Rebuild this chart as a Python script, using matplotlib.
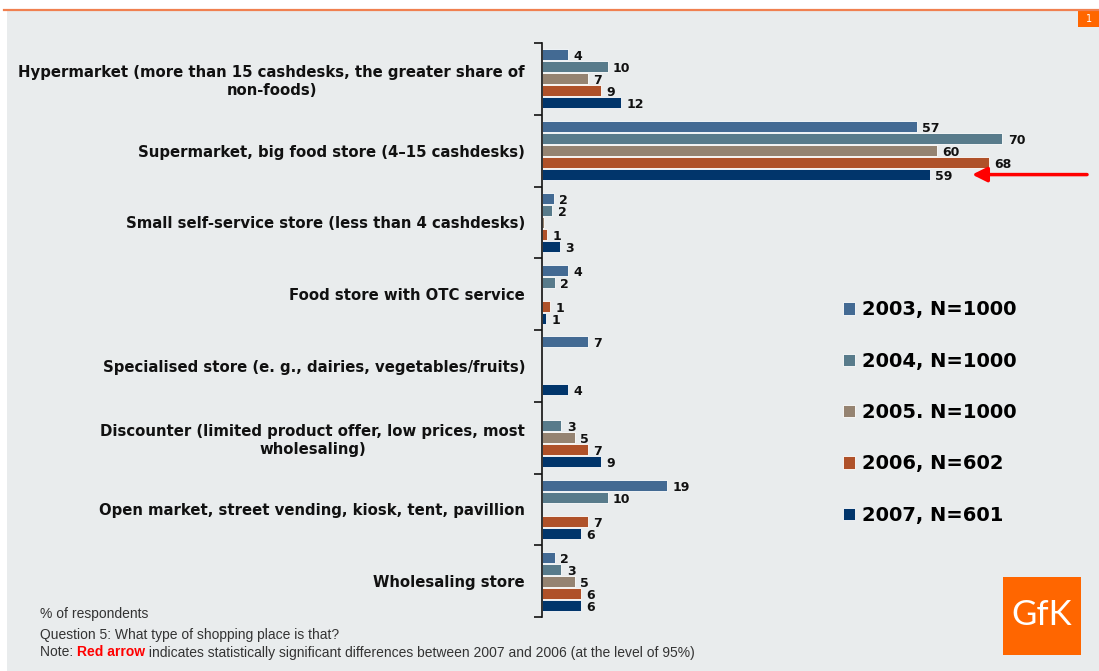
import matplotlib
matplotlib.use('Agg')
import matplotlib.pyplot as plt
from matplotlib.patches import Rectangle
from matplotlib import font_manager
import numpy as np

# store types, top to bottom
categories = ['Hypermarket (more than 15 cashdesks, the greater share of\nnon-foods)',
              'Supermarket, big food store (4\u201315 cashdesks)',
              'Small self-service store (less than 4 cashdesks)',
              'Food store with OTC service',
              'Specialised store (e. g., dairies, vegetables/fruits)',
              'Discounter (limited product offer, low prices, most\nwholesaling)',
              'Open market, street vending, kiosk, tent, pavillion',
              'Wholesaling store']

series = ['2003, N=1000', '2004, N=1000', '2005. N=1000', '2006, N=602', '2007, N=601']
nan = np.nan
v2003 = [4, 57, 1.8, 4, 7, nan, 19, 2]
v2004 = [10, 70, 1.6, 2, nan, 3, 10, 3]
v2005 = [7, 60, 0.3, nan, nan, 5, nan, 5]
v2006 = [9, 68, 0.8, 1.3, nan, 7, 7, 6]
v2007 = [12, 59, 2.8, 0.7, 4, 9, 6, 6]
values = [v2003, v2004, v2005, v2006, v2007]
colors = ['#436A93', '#587B8B', '#958371', '#AF5129', '#01356B']

W, H = 1099, 671
fig = plt.figure(figsize=(W / 100, H / 100), dpi=100)
fig.patch.set_facecolor('white')

def fx(px):
    return px / W

def fy(py):
    return 1 - py / H

# page background and header line
fig.patches.append(Rectangle((fx(7), 0), 1, fy(10), transform=fig.transFigure,
                             facecolor='#E9ECED', edgecolor='none', zorder=-10))
fig.add_artist(plt.Line2D([fx(4), 1], [fy(9.5), fy(9.5)], transform=fig.transFigure,
                          color='#F08050', lw=1.6))
fig.patches.append(Rectangle((fx(1078), fy(27)), fx(21), fy(10) - fy(27), transform=fig.transFigure,
                             facecolor='#FF6600', edgecolor='none'))
fig.text(fx(1089), fy(18.5), '1', color='white', fontsize=7, ha='center', va='center')

ax_left, ax_top, ax_bot = 541.7, 43, 617
ax = fig.add_axes([fx(ax_left), fy(ax_bot), 1 - fx(ax_left), fy(ax_top) - fy(ax_bot)])
ax.set_facecolor('none')

n = len(categories)
y = np.arange(n)
step = 0.167
bh = 0.155
for j, (vals, col, lab) in enumerate(zip(values, colors, series)):
    pos = y + (j - 2) * step
    ax.barh(pos, vals, height=bh, color=col, edgecolor='white', linewidth=0.6, label=lab)
    for p, v in zip(pos, vals):
        if np.isnan(v) or v < 0.5:
            continue
        ax.annotate('%d' % round(v), (v, p), xytext=(4, -1.5), textcoords='offset points',
                    ha='left', va='center', fontsize=9, fontweight='bold', color='#111111')

ax.set_xlim(0, (W - ax_left) / 6.58)
ax.set_ylim(n - 0.5, -0.5)
ax.set_xticks([])
ax.set_yticks(y)
ax.set_yticklabels(categories, fontsize=10.7, fontweight='bold', color='#111111', multialignment='center')
ax.tick_params(axis='y', which='major', length=0, pad=12)
ax.set_yticks(np.arange(n + 1) - 0.5, minor=True)
ax.tick_params(axis='y', which='minor', length=6, width=1.2, color='#111111')
for s in ['top', 'right', 'bottom']:
    ax.spines[s].set_visible(False)
ax.spines['left'].set_linewidth(1.2)
ax.spines['left'].set_color('#111111')

# significance arrow at 2007 supermarket bar
ya = 1 + 2 * step
ax.annotate('', xy=(65.0, ya), xytext=(83.3, ya), annotation_clip=False,
            arrowprops=dict(arrowstyle='-|>', color='red', lw=2.5, mutation_scale=22))

leg = ax.legend(loc='upper left', bbox_to_anchor=(fx(843), fy(300.5)), bbox_transform=fig.transFigure,
                frameon=False, borderpad=0, borderaxespad=0, handlelength=0.6, handleheight=0.6,
                handletextpad=0.4, labelspacing=1.66, prop={'size': 14, 'weight': 'bold'})

# footer (narrow face if there is one)
names = {f.name for f in font_manager.fontManager.ttflist}
if 'Liberation Sans Narrow' in names:
    foot = ['Liberation Sans Narrow', 'DejaVu Sans']
    fs = 10.5
else:
    foot = ['Liberation Sans', 'DejaVu Sans']
    fs = 10
fig.text(fx(40), fy(614), '% of respondents', fontsize=fs, family=foot, color='#333333', va='center')
fig.text(fx(40), fy(635), 'Question 5: What type of shopping place is that?', fontsize=fs,
         family=foot, color='#333333', va='center')
t1 = fig.text(fx(40), fy(652.5), 'Note: ', fontsize=fs, family=foot, color='#333333', va='center')
t2 = fig.text(0, 0, 'Red arrow', fontsize=fs, family=foot, color='red', fontweight='bold', va='center')
t3 = fig.text(0, 0, ' indicates statistically significant differences between 2007 and 2006 (at the level of 95%)',
              fontsize=fs, family=foot, color='#333333', va='center')
fig.canvas.draw()
r = fig.canvas.get_renderer()
e1 = t1.get_window_extent(r)
t2.set_position((e1.x1 / W, fy(652.5)))
fig.canvas.draw()
e2 = t2.get_window_extent(r)
t3.set_position((e2.x1 / W, fy(652.5)))

# GfK logo
fig.patches.append(Rectangle((fx(1003), fy(655)), fx(78), fy(577) - fy(655), transform=fig.transFigure,
                             facecolor='#FF6600', edgecolor='none'))
fig.text(fx(1042), fy(615), 'GfK', color='white', fontsize=25, family='Lato', ha='center', va='center')

fig.savefig('out.png', dpi=100, facecolor=fig.get_facecolor())
